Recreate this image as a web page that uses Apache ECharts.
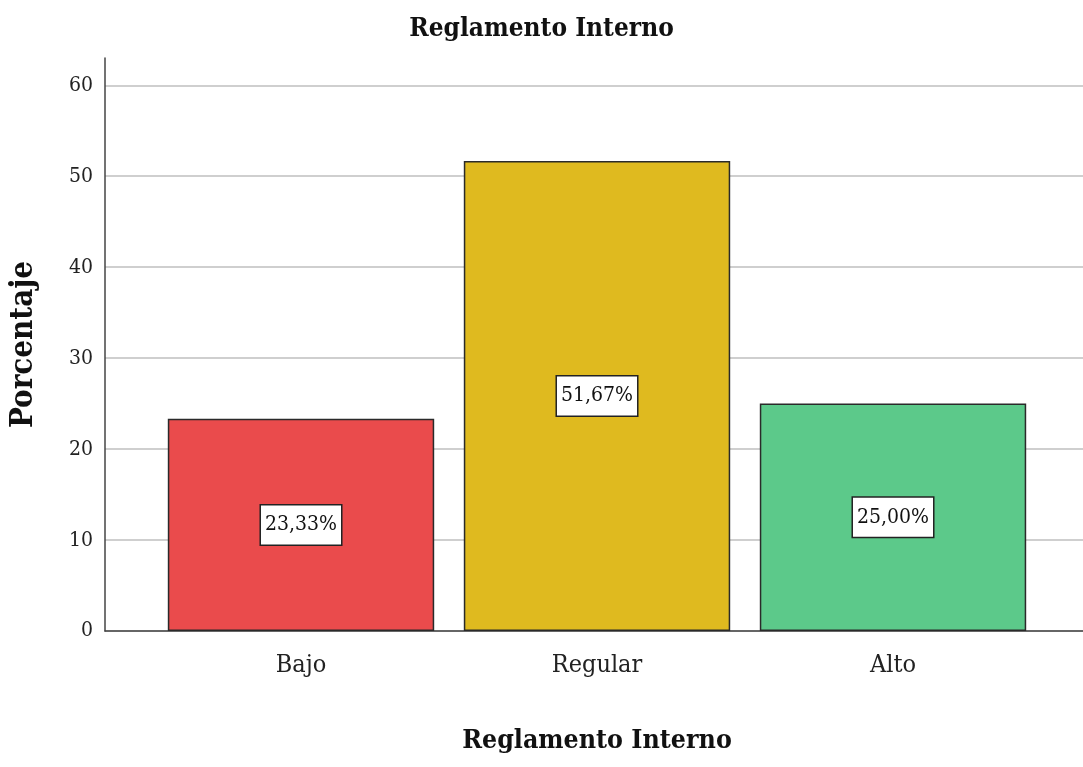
<!DOCTYPE html>
<html>
<head>
<meta charset="utf-8">
<script src="https://cdn.jsdelivr.net/npm/echarts@6/dist/echarts.min.js"></script>
<style>
html,body{margin:0;padding:0;background:#fff;}
#c{width:1083px;height:767px;}
</style>
</head>
<body>
<div id="c"></div>
<script>
var categories = ['Bajo', 'Regular', 'Alto'];
var percentages = [23.33, 51.67, 25.00];
var barColors = ['#EA4B4C', '#DFBA1F', '#5CC98A'];
var yTicks = [0, 10, 20, 30, 40, 50, 60];
var titleText = 'Reglamento Interno';
var yName = 'Porcentaje';

var FONT = '"DejaVu Serif Condensed", "Liberation Serif", serif';
var chart = echarts.init(document.getElementById('c'));
chart.setOption({
  backgroundColor: '#fff',
  animation: false,
  title: {
    text: titleText, left: 'center', top: 11,
    textStyle: {fontFamily: FONT, fontWeight: 'bold', fontSize: 26, color: '#111'}
  },
  grid: [
    {left: 104, right: 0, top: 58, bottom: 136},
    {left: 153, right: 42, top: 58, bottom: 136}
  ],
  xAxis: [
    {gridIndex: 0, type: 'category', data: [''], axisLine: {show: true, lineStyle: {color: '#444', width: 1.5}},
     axisTick: {show: false}, axisLabel: {show: false}, splitLine: {show: false}},
    {gridIndex: 1, type: 'category', data: categories, axisLine: {show: false}, axisTick: {show: false},
     axisLabel: {margin: 22, fontFamily: FONT, fontSize: 25, color: '#222'},
     name: titleText, nameLocation: 'middle', nameGap: 97,
     nameTextStyle: {fontFamily: FONT, fontWeight: 'bold', fontSize: 26.5, color: '#111'}}
  ],
  yAxis: [
    {gridIndex: 0, type: 'value', min: 0, max: 63, interval: 10,
     axisLine: {show: true, lineStyle: {color: '#444', width: 1.5}}, axisTick: {show: false},
     axisLabel: {showMaxLabel: false, margin: 12, fontFamily: FONT, fontSize: 21, color: '#222',
       formatter: function (v) { return yTicks.indexOf(v) >= 0 ? String(v) : ''; }},
     splitLine: {show: true, showMaxLine: false, lineStyle: {color: '#cfcfcf', width: 2}},
     name: yName, nameLocation: 'middle', nameGap: 66,
     nameTextStyle: {fontFamily: FONT, fontWeight: 'bold', fontSize: 31, color: '#111'}},
    {gridIndex: 1, type: 'value', min: 0, max: 63, interval: 10, show: false, splitLine: {show: false}}
  ],
  series: [{
    type: 'bar', xAxisIndex: 1, yAxisIndex: 1, barCategoryGap: '10%',
    data: percentages.map(function (v, i) {
      return {value: v, itemStyle: {color: barColors[i]}};
    }),
    itemStyle: {borderColor: '#2a2a2a', borderWidth: 1.5},
    label: {
      show: true, position: 'inside',
      formatter: function (p) { return p.value.toFixed(2).replace('.', ',') + '%'; },
      fontFamily: FONT, fontSize: 21, color: '#111',
      backgroundColor: '#fff', borderColor: '#222', borderWidth: 1.5, padding: [9, 4]
    }
  }]
});
</script>
</body>
</html>
